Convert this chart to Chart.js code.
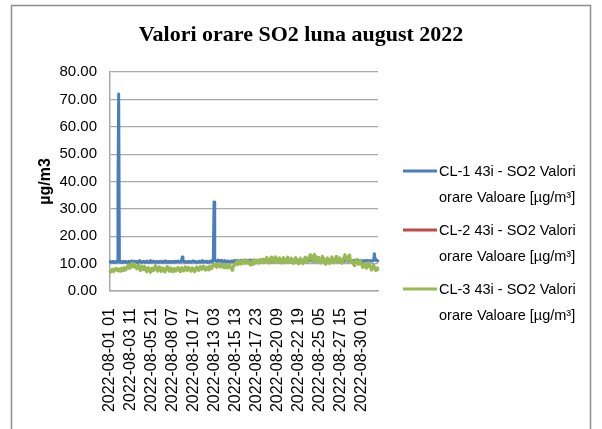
<!DOCTYPE html>
<html>
<head>
<meta charset="utf-8">
<script src="https://cdn.jsdelivr.net/npm/chart.js@4/dist/chart.umd.min.js"></script>
<style>
  body { margin: 0; background: #fff; }
  #wrap { width: 602px; height: 429px; }
</style>
</head>
<body>
<div id="wrap"><canvas id="so2Chart" width="602" height="429"></canvas></div>
<script>
    // Title and series names
    const chartTitle = "Valori orare SO2 luna august 2022";
    const yTitle = "µg/m3";
    const seriesNames = [
        ["CL-1 43i - SO2 Valori", "orare Valoare [µg/m³]"],
        ["CL-2 43i - SO2 Valori", "orare Valoare [µg/m³]"],
        ["CL-3 43i - SO2 Valori", "orare Valoare [µg/m³]"]
    ];

    // Category labels: every 2 hours, 2022-08-01 01 ... 2022-08-31 23
    const hourLabels = [];
    for (let d = 1; d <= 31; d++) {
        for (let h = 1; h < 24; h += 2) {
            hourLabels.push("2022-08-" + String(d).padStart(2, "0") + " " + String(h).padStart(2, "0"));
        }
    }
    // a label is printed every 58 hours (29 points)
    const labelStep = 29;

    // CL-1 values, one row per day (12 values, 2-hour step)
    const cl1 = [
        10.6,10.8,10.5,10.7,10.9,10.6,10.4,10.7,10.8,10.6,10.7,36.0,
        72.0,10.9,10.5,10.8,10.7,10.4,10.6,10.9,10.7,10.5,10.8,10.6,
        10.5,10.7,10.9,10.6,10.4,10.8,11.0,10.7,10.5,10.6,10.9,10.7,
        10.8,10.6,10.4,10.7,10.9,11.1,10.8,10.6,10.5,10.8,10.7,10.9,
        10.6,10.5,10.8,11.0,10.7,10.5,10.6,10.9,11.1,10.8,10.6,10.7,
        10.9,10.7,10.5,10.6,10.8,10.9,10.6,10.4,10.7,10.9,10.8,10.6,
        10.5,10.7,10.8,10.6,10.9,11.0,10.7,10.5,10.6,10.8,10.7,10.5,
        10.6,10.8,10.7,10.5,10.6,10.9,10.8,10.6,10.7,10.9,11.0,10.7,
        10.6,10.8,10.7,10.9,12.4,11.0,10.7,10.6,10.8,10.7,10.5,10.6,
        10.7,10.9,10.8,10.6,10.5,10.7,10.9,11.0,10.8,10.6,10.7,10.8,
        10.6,10.5,10.7,10.9,10.8,10.6,10.7,10.9,11.1,10.8,10.6,10.7,
        10.8,10.9,10.7,10.5,10.6,10.8,10.7,10.9,11.0,10.8,10.7,11.0,
        32.5,11.4,11.2,10.9,10.8,11.0,11.3,11.1,10.9,10.8,11.0,11.2,
        10.8,10.7,10.9,11.1,10.9,10.7,10.8,11.0,10.9,10.7,10.6,10.8,
        10.9,11.0,10.8,10.7,10.9,11.2,11.0,10.8,10.9,11.1,11.0,10.8,
        11.0,11.2,11.1,10.9,10.8,11.0,11.3,11.1,10.9,11.0,11.2,11.0,
        10.9,11.1,11.3,11.0,10.8,10.9,11.2,11.1,10.9,10.8,11.0,11.2,
        11.1,10.9,10.8,11.0,11.3,11.2,10.9,11.0,11.1,10.9,10.8,11.0,
        11.2,11.0,10.9,11.1,11.3,11.1,10.9,10.8,11.0,11.2,11.1,10.9,
        11.0,11.2,11.0,10.8,10.9,11.1,11.3,11.0,10.9,11.1,11.2,11.0,
        10.9,11.0,11.2,11.1,10.9,10.8,11.0,11.2,11.1,10.9,11.0,11.3,
        11.1,10.9,10.8,11.0,11.2,11.0,10.9,11.1,11.3,11.1,10.9,11.0,
        11.2,11.1,10.9,11.0,11.2,11.3,11.0,10.9,11.1,11.0,10.8,11.0,
        11.1,11.3,11.1,10.9,11.0,11.2,11.1,10.9,11.0,11.2,11.0,10.9,
        11.0,11.1,11.3,11.0,10.9,11.1,11.2,11.0,10.8,11.0,11.1,11.2,
        10.9,11.0,11.2,11.1,10.9,11.0,11.3,11.1,10.9,10.8,11.0,11.1,
        11.2,11.0,10.9,11.1,11.2,11.0,10.9,11.0,11.2,11.1,10.9,11.0,
        11.1,10.9,11.0,11.2,11.3,11.1,10.9,11.0,11.1,11.0,10.8,10.9,
        11.0,11.2,11.1,10.9,11.0,11.1,11.3,11.0,10.9,11.1,11.0,10.9,
        11.1,11.0,10.8,10.9,11.1,11.2,11.0,10.9,11.1,11.2,11.0,10.9,
        11.0,11.1,10.9,11.0,11.2,11.3,13.6,11.6,11.2,11.0,11.1,11.0
    ];

    // CL-2 has no values this month
    const cl2 = [];

    // CL-3 values, one row per day (12 values, 2-hour step)
    const cl3 = [
        7.2,6.9,7.4,7.9,7.6,7.1,7.5,8.0,8.3,7.8,7.4,7.7,
        8.1,7.6,7.2,7.8,8.4,8.0,7.5,7.9,8.6,8.2,7.7,8.3,
        8.8,9.4,8.9,8.2,8.7,9.6,10.1,9.5,8.8,9.2,9.9,9.3,
        8.6,8.1,8.7,9.4,8.8,8.0,7.4,8.2,9.1,8.5,7.8,8.4,
        9.0,8.3,7.5,7.0,7.8,8.6,8.1,7.3,6.8,7.6,8.4,7.9,
        7.4,8.0,8.9,9.3,8.6,7.7,7.2,8.1,8.8,8.2,7.5,7.1,
        7.8,8.5,8.0,7.3,6.9,7.6,8.4,8.9,8.3,7.6,7.2,7.9,
        8.5,8.1,7.4,7.0,7.7,8.3,7.8,7.2,7.5,8.2,8.7,8.0,
        7.5,7.1,7.9,8.6,8.2,7.6,7.3,8.0,8.8,8.4,7.7,7.4,
        8.1,8.7,8.3,7.6,7.2,7.8,8.5,8.1,7.4,7.0,7.6,8.3,
        8.8,8.4,7.8,7.5,8.2,8.9,8.5,7.9,8.3,9.0,8.6,8.0,
        7.6,8.1,8.7,8.3,7.7,8.4,9.1,8.8,8.2,8.6,9.3,8.9,
        9.4,9.9,9.5,8.9,8.6,9.3,10.0,9.6,9.0,8.7,9.4,9.8,
        9.2,8.8,8.5,9.1,9.7,9.3,8.7,8.4,9.0,9.6,9.2,8.6,
        8.2,7.6,8.3,9.2,9.8,9.4,10.1,10.7,10.2,9.6,10.3,11.0,
        10.5,9.8,10.4,11.2,10.7,10.0,10.6,11.3,10.8,10.1,10.5,11.1,
        10.6,9.9,9.5,10.2,10.9,10.4,9.8,10.5,11.4,10.9,10.2,10.7,
        11.3,10.8,10.1,10.6,11.5,11.0,10.3,10.8,11.6,11.1,10.4,10.9,
        11.7,12.3,11.6,10.8,10.2,10.9,11.8,12.4,11.7,10.9,10.4,11.2,
        12.0,12.5,11.8,11.0,10.5,11.3,12.1,11.5,10.7,10.2,10.9,11.7,
        12.2,11.6,10.8,10.3,11.0,11.9,12.4,11.7,10.9,10.4,11.2,12.0,
        11.5,10.7,10.1,10.8,11.6,12.2,11.6,10.9,10.3,9.9,10.6,11.4,
        12.0,11.4,10.6,10.0,10.7,11.5,12.3,11.8,11.0,10.5,11.2,12.0,
        12.6,13.2,12.5,11.6,10.9,11.7,12.8,13.4,12.6,11.5,10.8,11.6,
        12.3,11.5,10.7,10.2,10.9,11.8,12.7,12.1,11.2,10.4,9.8,10.6,
        11.4,12.1,11.5,10.6,10.0,10.8,11.7,12.5,11.9,11.0,10.3,10.9,
        11.8,12.6,12.0,11.1,10.4,11.2,12.1,11.4,10.6,10.1,10.8,11.6,
        12.4,13.3,12.7,11.6,10.8,11.5,12.4,13.1,12.3,11.2,10.5,11.1,
        10.6,9.8,9.3,10.0,10.8,11.5,10.9,10.2,9.7,10.4,11.2,10.7,
        9.9,9.2,8.6,9.3,10.1,9.6,8.8,8.3,8.9,9.7,10.4,9.8,
        9.0,8.3,7.6,8.2,9.1,9.6,8.8,8.0,7.4,7.9,8.5,7.8
    ];

    const colors = ["#4a7ebb", "#be4b48", "#98b954"];
    const gridColor = "#a9a9a9";

    // Frame, title and legend drawn around the plot
    const framePlugin = {
        id: "framePlugin",
        beforeDraw(chart) {
            const ctx = chart.ctx;
            ctx.save();
            ctx.fillStyle = "#fff";
            ctx.fillRect(0, 0, chart.width, chart.height);
            ctx.strokeStyle = "#8c8c8c";
            ctx.lineWidth = 1.5;
            ctx.strokeRect(11.5, 5.5, 579, 500);
            ctx.restore();
        },
        afterDraw(chart) {
            const ctx = chart.ctx;
            ctx.save();
            ctx.fillStyle = "#000";
            ctx.textAlign = "center";
            ctx.textBaseline = "middle";
            ctx.font = "bold 22px 'Liberation Serif'";
            ctx.fillText(chartTitle, 301, 35);

            ctx.font = "14.5px 'Liberation Sans'";
            ctx.textAlign = "left";
            chart.data.datasets.forEach((ds, i) => {
                const y = 171 + i * 59;
                ctx.strokeStyle = ds.borderColor;
                ctx.lineWidth = 3;
                ctx.beginPath();
                ctx.moveTo(403, y);
                ctx.lineTo(437, y);
                ctx.stroke();
                seriesNames[i].forEach((line, k) => {
                    ctx.fillText(line, 439, y + 1 + k * 26);
                });
            });
            ctx.restore();
        }
    };

    const ctx = document.getElementById("so2Chart").getContext("2d");

    const so2Chart = new Chart(ctx, {
        type: "line",
        data: {
            labels: hourLabels,
            datasets: [
                { label: seriesNames[0].join(" "), data: cl1, borderColor: colors[0], backgroundColor: colors[0], order: 3 },
                { label: seriesNames[1].join(" "), data: cl2, borderColor: colors[1], backgroundColor: colors[1], order: 2 },
                { label: seriesNames[2].join(" "), data: cl3, borderColor: colors[2], backgroundColor: colors[2], order: 1 }
            ]
        },
        options: {
            responsive: false,
            animation: false,
            devicePixelRatio: 1,
            layout: {
                padding: { left: 30, top: 72, right: 224, bottom: 0 }
            },
            elements: {
                point: { radius: 0 },
                line: { borderWidth: 3, tension: 0, borderJoinStyle: "round", borderCapStyle: "round" }
            },
            plugins: {
                legend: { display: false },
                title: { display: false },
                tooltip: { enabled: false }
            },
            scales: {
                x: {
                    grid: { display: false },
                    border: { display: true, color: gridColor, width: 1.5 },
                    ticks: {
                        autoSkip: false,
                        minRotation: 90,
                        maxRotation: 90,
                        padding: 9,
                        color: "#000",
                        font: { family: "'Liberation Sans'", size: 16 },
                        callback: function (value, index) {
                            return index % labelStep === 0 ? hourLabels[index] : null;
                        }
                    },
                    afterFit: function (scale) {
                        scale.height = 138;
                    }
                },
                y: {
                    min: 0,
                    max: 80,
                    grid: { color: gridColor, lineWidth: 1.2, drawTicks: false },
                    border: { display: true, color: gridColor, width: 1.5 },
                    ticks: {
                        stepSize: 10,
                        padding: 13,
                        color: "#000",
                        font: { family: "'Liberation Sans'", size: 15 },
                        callback: function (value) {
                            return value.toFixed(2);
                        }
                    },
                    title: {
                        display: true,
                        text: yTitle,
                        color: "#000",
                        padding: { top: 6, bottom: 0 },
                        font: { family: "'Liberation Sans'", size: 16, weight: "bold" }
                    },
                    afterFit: function (scale) {
                        scale.width = 80;
                    }
                }
            }
        },
        plugins: [framePlugin]
    });
</script>
</body>
</html>
